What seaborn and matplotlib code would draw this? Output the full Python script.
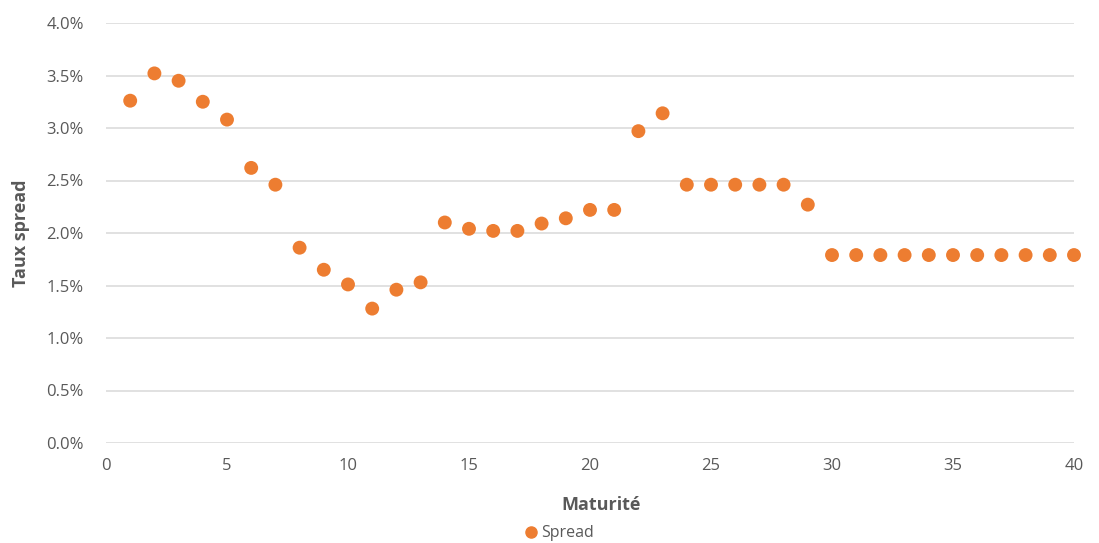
import matplotlib
matplotlib.use("Agg")
import matplotlib.pyplot as plt
from matplotlib.ticker import PercentFormatter
import seaborn as sns
import pandas as pd

maturite = list(range(1, 41))
spread = [3.26, 3.52, 3.45, 3.25, 3.08, 2.62, 2.46, 1.86, 1.65, 1.51,
          1.28, 1.46, 1.53, 2.10, 2.04, 2.02, 2.02, 2.09, 2.14, 2.22,
          2.22, 2.97, 3.14, 2.46, 2.46, 2.46, 2.46, 2.46, 2.27, 1.79,
          1.79, 1.79, 1.79, 1.79, 1.79, 1.79, 1.79, 1.79, 1.79, 1.79]
y_ticks = [0.0, 0.5, 1.0, 1.5, 2.0, 2.5, 3.0, 3.5, 4.0]
x_ticks = [0, 5, 10, 15, 20, 25, 30, 35, 40]

df = pd.DataFrame({"Maturité": maturite, "Spread": spread, "serie": "Spread"})

sns.set_theme(style="white")
plt.rcParams["font.family"] = ["Open Sans", "DejaVu Sans"]

fig = plt.figure(figsize=(10.99, 5.43), dpi=100)
ax = fig.add_axes([106 / 1099, 1 - 443 / 543, 968 / 1099, 420 / 543])

orange = "#ED7D31"
grey_txt = "#595959"

sns.scatterplot(data=df, x="Maturité", y="Spread", hue="serie",
                palette=[orange], s=100, edgecolor="none", ax=ax,
                legend=False, zorder=3, clip_on=False)

ax.set_xlim(0, 40)
ax.set_ylim(0, 4.0)
ax.set_xticks(x_ticks)
ax.set_yticks(y_ticks)
ax.yaxis.set_major_formatter(PercentFormatter(decimals=1))
ax.grid(axis="y", color="#d9d9d9", linewidth=1.1)
ax.grid(axis="x", visible=False)
for sp in ax.spines.values():
    sp.set_visible(False)
ax.tick_params(axis="both", length=0, labelsize=12, labelcolor=grey_txt)
ax.tick_params(axis="y", pad=16)
ax.tick_params(axis="x", pad=11)

ax.set_xlabel("Maturité", fontsize=13, fontweight="bold", color=grey_txt)
ax.set_ylabel("Taux spread", fontsize=13, fontweight="bold", color=grey_txt)
ax.xaxis.set_label_coords(0.511, -0.125)
ax.yaxis.set_label_coords(-0.078, 0.5)

handle = plt.Line2D([], [], marker="o", linestyle="none", color=orange,
                    markersize=8)
fig.legend([handle], ["Spread"], loc="center", bbox_to_anchor=(0.508, 0.018),
           frameon=False, fontsize=11.5, handletextpad=0.1, handlelength=1.0,
           labelcolor=grey_txt)

fig.savefig("out.png", dpi=100)
